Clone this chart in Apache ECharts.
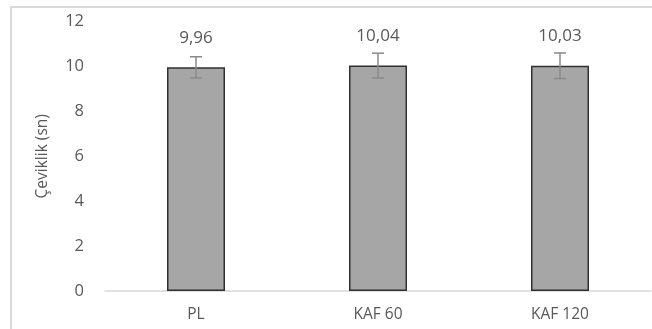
<!DOCTYPE html>
<html>
<head>
<meta charset="utf-8">
<script src="https://cdn.jsdelivr.net/npm/echarts@6/dist/echarts.min.js"></script>
<style>
html,body{margin:0;padding:0;background:#fff;}
#frame{position:absolute;left:10px;top:6px;width:700px;height:400px;border-left:2px solid #d9d9d9;border-top:2px solid #d9d9d9;}
#c{position:absolute;left:0;top:0;width:652px;height:329px;}
</style>
</head>
<body>
<div id="frame"></div>
<div id="c"></div>
<script>
const categories = ['PL', 'KAF 60', 'KAF 120'];
const means = [9.96, 10.04, 10.03];
const sds = [0.47, 0.55, 0.57];
const yTicks = [0, 2, 4, 6, 8, 10, 12];

const chart = echarts.init(document.getElementById('c'));
const font = '"Open Sans", Lato, sans-serif';
chart.setOption({
  animation: false,
  grid: {left: 105, right: 1, top: 21.5, bottom: 38},
  xAxis: {
    type: 'category',
    data: categories,
    axisLine: {lineStyle: {color: '#d9d9d9', width: 1.5}},
    axisTick: {show: false},
    axisLabel: {color: '#595959', fontSize: 15.5, fontFamily: font, margin: 16}
  },
  yAxis: {
    type: 'value',
    min: yTicks[0], max: yTicks[yTicks.length - 1], interval: 2,
    splitLine: {show: false},
    axisLine: {show: false},
    axisTick: {show: false},
    axisLabel: {color: '#595959', fontSize: 16.5, fontFamily: font, margin: 21},
    name: 'Çeviklik (sn)',
    nameLocation: 'middle',
    nameGap: 54,
    nameTextStyle: {color: '#595959', fontSize: 15.5, fontFamily: font}
  },
  series: [
    {
      type: 'bar',
      data: means,
      barWidth: 58,
      itemStyle: {color: '#a6a6a6', borderColor: '#303030', borderWidth: 1.5},
      label: {
        show: true, position: 'top', distance: 21,
        color: '#595959', fontSize: 17, fontFamily: font,
        formatter: p => p.value.toFixed(2).replace('.', ',')
      }
    },
    {
      type: 'custom',
      data: means.map((m, i) => [i, m - sds[i], m + sds[i]]),
      z: 5,
      renderItem: function (params, api) {
        const x = api.value(0);
        const lo = api.coord([x, api.value(1)]);
        const hi = api.coord([x, api.value(2)]);
        const w = 6;
        const st = {stroke: '#8a8a8a', lineWidth: 1.5};
        return {
          type: 'group',
          children: [
            {type: 'line', shape: {x1: hi[0], y1: hi[1], x2: lo[0], y2: lo[1]}, style: st},
            {type: 'line', shape: {x1: hi[0] - w, y1: hi[1], x2: hi[0] + w, y2: hi[1]}, style: st},
            {type: 'line', shape: {x1: lo[0] - w, y1: lo[1], x2: lo[0] + w, y2: lo[1]}, style: st}
          ]
        };
      }
    }
  ]
});
</script>
</body>
</html>
